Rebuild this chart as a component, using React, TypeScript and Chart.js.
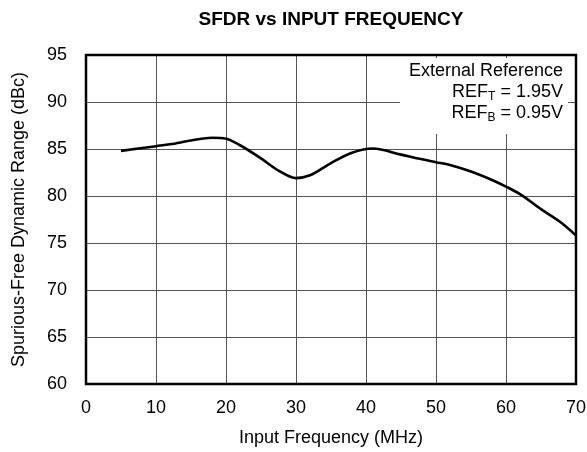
import React, { useEffect, useRef } from "react";
import { Chart, registerables } from "chart.js";

Chart.register(...registerables);

const frequencyMHz = [5, 8, 10, 12, 15, 18, 20, 22, 25, 27.5, 30, 32, 35, 38, 41, 45, 48, 50, 52, 55, 58, 60, 62, 65, 68, 70];
const sfdrDBc = [84.8, 85.1, 85.3, 85.5, 85.9, 86.2, 86.1, 85.4, 84.0, 82.7, 81.9, 82.2, 83.5, 84.6, 85.05, 84.4, 83.9, 83.6, 83.3, 82.6, 81.7, 81.0, 80.2, 78.6, 77.1, 75.8];

const chartTitle = "SFDR vs INPUT FREQUENCY";
const xAxisTitle = "Input Frequency (MHz)";
const yAxisTitle = "Spurious-Free Dynamic Range (dBc)";
const annotationLines = [
  { main: "External Reference", sub: "", rest: "" },
  { main: "REF", sub: "T", rest: " = 1.95V" },
  { main: "REF", sub: "B", rest: " = 0.95V" },
];

const FONT = "'Liberation Sans', Arial, sans-serif";

export default function App() {
  const canvasRef = useRef<HTMLCanvasElement | null>(null);

  useEffect(() => {
    document.body.style.margin = "0";
    const canvas = canvasRef.current;
    if (!canvas) return;

    const decorPlugin = {
      id: "decor",
      beforeDatasetsDraw(chart: any) {
        const { ctx, chartArea } = chart;
        ctx.save();
        const boxRight = chartArea.right - 8;
        const boxLeft = chartArea.left + 314;
        const boxTop = chartArea.top + 3;
        const boxBottom = chartArea.top + 79;
        ctx.fillStyle = "#ffffff";
        ctx.fillRect(boxLeft, boxTop, boxRight - boxLeft, boxBottom - boxTop);
        ctx.fillStyle = "#000000";
        ctx.textBaseline = "middle";
        const mainSize = 18;
        const subSize = 12;
        const lineYs = [chartArea.top + 16, chartArea.top + 37, chartArea.top + 58];
        const textRight = boxRight - 5;
        annotationLines.forEach((ln, i) => {
          const y = lineYs[i];
          ctx.font = `${mainSize}px ${FONT}`;
          const wMain = ctx.measureText(ln.main).width;
          const wRest = ctx.measureText(ln.rest).width;
          ctx.font = `${subSize}px ${FONT}`;
          const wSub = ln.sub ? ctx.measureText(ln.sub).width : 0;
          let x = textRight - (wMain + wSub + wRest);
          ctx.textAlign = "left";
          ctx.font = `${mainSize}px ${FONT}`;
          ctx.fillText(ln.main, x, y);
          x += wMain;
          if (ln.sub) {
            ctx.font = `${subSize}px ${FONT}`;
            ctx.fillText(ln.sub, x, y + 5);
            x += wSub;
          }
          ctx.font = `${mainSize}px ${FONT}`;
          ctx.fillText(ln.rest, x, y);
        });
        ctx.restore();
      },
      afterDraw(chart: any) {
        const { ctx, chartArea } = chart;
        ctx.save();
        ctx.strokeStyle = "#000000";
        ctx.lineWidth = 2.5;
        ctx.strokeRect(chartArea.left, chartArea.top, chartArea.right - chartArea.left, chartArea.bottom - chartArea.top);
        ctx.fillStyle = "#000000";
        ctx.font = `bold 19px ${FONT}`;
        ctx.textAlign = "center";
        ctx.textBaseline = "middle";
        ctx.fillText(chartTitle, (chartArea.left + chartArea.right) / 2, 20);
        ctx.restore();
      },
    };

    const chart = new Chart(canvas, {
      type: "line",
      data: {
        datasets: [
          {
            data: frequencyMHz.map((f, i) => ({ x: f, y: sfdrDBc[i] })),
            borderColor: "#000000",
            borderWidth: 2.6,
            pointRadius: 0,
            fill: false,
            tension: 0.4,
            cubicInterpolationMode: "monotone",
          },
        ],
      },
      options: {
        animation: false,
        responsive: true,
        maintainAspectRatio: false,
        layout: { padding: { top: 55, right: 11, left: 0, bottom: 0 } },
        plugins: { legend: { display: false }, title: { display: false }, tooltip: { enabled: false } },
        scales: {
          x: {
            type: "linear",
            min: 0,
            max: 70,
            afterFit: (s: any) => { s.height = 68; s.paddingRight = 0; s.paddingLeft = 0; },
            ticks: { stepSize: 10, padding: 13, color: "#000", font: { family: FONT, size: 18 } },
            grid: { color: "#555555", lineWidth: 1, drawTicks: false },
            border: { display: false },
            title: { display: true, text: xAxisTitle, color: "#000", font: { family: FONT, size: 18 }, padding: { top: 0, bottom: 3 } },
          },
          y: {
            min: 60,
            max: 95,
            afterFit: (s: any) => { s.width = 86; s.paddingTop = 0; s.paddingBottom = 0; },
            ticks: { stepSize: 5, padding: 19, color: "#000", font: { family: FONT, size: 18 } },
            grid: { color: "#555555", lineWidth: 1, drawTicks: false },
            border: { display: false },
            title: { display: true, text: yAxisTitle, color: "#000", font: { family: FONT, size: 18 }, padding: { top: 8, bottom: 0 } },
          },
        },
      },
      plugins: [decorPlugin],
    });

    return () => chart.destroy();
  }, []);

  return (
    <div style={{ position: "relative", width: 587, height: 452 }}>
      <canvas ref={canvasRef} />
    </div>
  );
}
